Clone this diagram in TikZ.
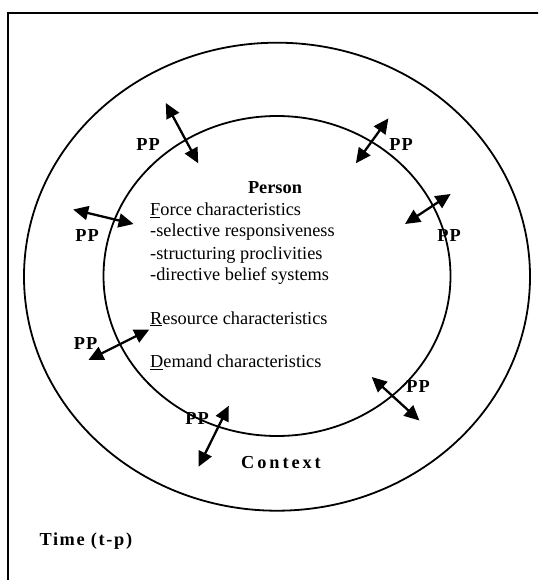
\documentclass[tikz,border=0pt]{standalone}
\usepackage{fontspec}
\setmainfont{Liberation Serif}
\usetikzlibrary{arrows.meta}

\tikzset{
  ring/.style={line width=1.8pt},
  frame/.style={line width=1.8pt},
  link/.style={line width=2.3pt,
    {Triangle[length=15pt,width=14pt]}-{Triangle[length=15pt,width=14pt]}},
  body/.style={anchor=base west, inner sep=0pt,
    font=\fontsize{18.3}{22}\selectfont},
  pplabel/.style={anchor=base, inner sep=0pt,
    font=\fontsize{18.3}{22}\selectfont\bfseries\addfontfeature{LetterSpace=6}},
}

\begin{document}
\begin{tikzpicture}[x=1pt,y=-1pt]
  \useasboundingbox (0,0) rectangle (538,580);
  \clip (0,0) rectangle (538,580);

  % outer frame (runs off the right and bottom edges)
  \draw[frame] (8.3,600) -- (8.3,13.3) -- (560,13.3);

  % context ring and person ring
  \draw[ring] (277,276.7) ellipse [x radius=253, y radius=234];
  \draw[ring] (277,276) ellipse [x radius=173.5, y radius=160];

  % person block
  \node[body, anchor=base, font=\fontsize{18.3}{22}\selectfont\bfseries] (person) at (275,193.3) {Person};
  \node[body] (force) at (150,215.3) {\underline{F}orce characteristics};
  \node[body] (sel)   at (150,236)   {-selective responsiveness};
  \node[body] (struc) at (150,259.5) {-structuring proclivities};
  \node[body] (dir)   at (150,280)   {-directive belief systems};
  \node[body] (res)   at (150,324)   {\underline{R}esource characteristics};
  \node[body] (dem)   at (150,367.3) {\underline{D}emand characteristics};

  % process labels
  \node[pplabel] (pp1) at (148,151)   {PP};
  \node[pplabel] (pp2) at (401,150.7) {PP};
  \node[pplabel] (pp3) at (87,241)    {PP};
  \node[pplabel] (pp4) at (449,241)   {PP};
  \node[pplabel] (pp5) at (85.5,349)  {PP};
  \node[pplabel] (pp6) at (418,392.7) {PP};
  \node[pplabel] (pp7) at (197,424.3) {PP};

  \node[pplabel, font=\fontsize{18.3}{22}\selectfont\bfseries\addfontfeature{LetterSpace=16}] (context) at (281,468.3) {Context};
  \node[pplabel, anchor=base west, font=\fontsize{18.3}{22}\selectfont\bfseries\addfontfeature{LetterSpace=9}] (time) at (39.3,545.7) {Time (t-p)};

  % two-way process arrows across the person ring
  \coordinate (a1) at (165.8,103);   \coordinate (b1) at (198.2,163.3);
  \coordinate (a2) at (388.4,118.4); \coordinate (b2) at (355.9,163.3);
  \coordinate (a3) at (73.2,209.5);  \coordinate (b3) at (133.6,224);
  \coordinate (a4) at (450.6,194);   \coordinate (b4) at (405,224);
  \coordinate (a5) at (149.3,329.5); \coordinate (b5) at (88.4,360);
  \coordinate (a6) at (371.7,377);   \coordinate (b6) at (419.4,420.5);
  \coordinate (a7) at (228.8,405.7); \coordinate (b7) at (198.6,466.7);
  \foreach \i in {1,...,7} \draw[link] (a\i) -- (b\i);
\end{tikzpicture}
\end{document}
